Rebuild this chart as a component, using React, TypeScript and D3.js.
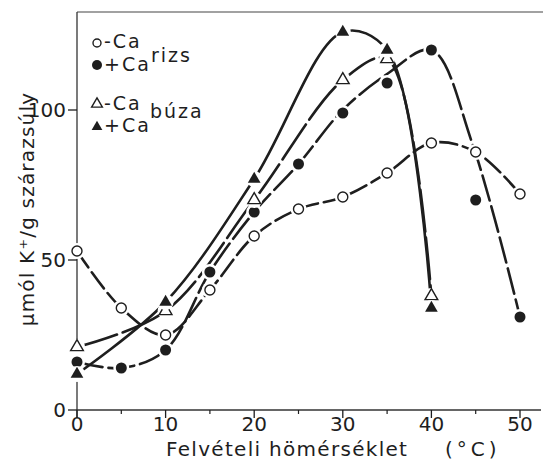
import React from 'react';
import * as d3 from 'd3';

const TEMPS = [0, 5, 10, 15, 20, 25, 30, 35, 40, 45, 50];
const RIZS_MINUS_CA = [53, 34, 25, 40, 58, 67, 71, 79, 89, 86, 72];
const RIZS_PLUS_CA = [16, 14, 20, 46, 66, 82, 99, 109, 120, 70, 31];
// the hand drawn +Ca rice curve skips the 45 °C point and runs through the open circle there
const RIZS_PLUS_LINE_T = [0, 5, 10, 15, 20, 25, 30, 35, 40, 44.6, 50];
const RIZS_PLUS_LINE_V = [16, 14, 20, 46, 66, 82, 100, 112, 120, 89, 31];
const BUZA_TEMPS = [0, 10, 20, 30, 35, 40];
const BUZA_MINUS_CA = [21, 33, 70, 110, 117, 38];
const BUZA_PLUS_CA = [12, 36, 77, 126, 120, 34];

const X_TICKS = [0, 10, 20, 30, 40, 50];
const X_MINOR = [5, 15, 25, 35, 45];
const Y_TICKS = [0, 50, 100];

const INK = '#1e1e1e';
const FONT = "'DejaVu Sans', sans-serif";

const W = 543;
const H = 468;

const x = d3.scaleLinear().domain([0, 50]).range([77, 520]);
const y = d3.scaleLinear().domain([0, 100]).range([410, 110]);

const line = d3
  .line<[number, number]>()
  .x(d => x(d[0]))
  .y(d => y(d[1]))
  .curve(d3.curveCatmullRom.alpha(0.5));

const zip = (ts: number[], vs: number[]) => ts.map((t, i) => [t, vs[i]] as [number, number]);

const tri = d3.symbol(d3.symbolTriangle, 70)();
const triSmall = d3.symbol(d3.symbolTriangle, 50)();

type Kind = 'open-c' | 'fill-c' | 'open-t' | 'fill-t';

function Marker({ cx, cy, kind, small }: { cx: number; cy: number; kind: Kind; small?: boolean }) {
  const open = kind.startsWith('open');
  const circle = kind.endsWith('c');
  return (
    <g transform={`translate(${cx},${cy})`}>
      {!small && <circle r={8} fill="#fff" />}
      {circle ? (
        <circle
          r={small ? (open ? 4 : 5) : open ? 5 : 5.5}
          fill={open ? '#fff' : INK}
          stroke={INK}
          strokeWidth={open ? 1.4 : 0}
        />
      ) : (
        <path
          d={small ? triSmall : tri}
          fill={open ? '#fff' : INK}
          stroke={INK}
          strokeWidth={open ? 1.4 : 0}
        />
      )}
    </g>
  );
}

export default function App() {
  const series = [
    { pts: zip(TEMPS, RIZS_MINUS_CA), dash: '20 6' },
    { pts: zip(RIZS_PLUS_LINE_T, RIZS_PLUS_LINE_V), dash: '26 6' },
    { pts: zip(BUZA_TEMPS, BUZA_MINUS_CA), dash: '42 6' },
    { pts: zip(BUZA_TEMPS, BUZA_PLUS_CA), dash: null },
  ];

  const marks: { t: number; v: number; kind: Kind }[] = [
    ...TEMPS.map((t, i) => ({ t, v: RIZS_MINUS_CA[i], kind: 'open-c' as Kind })),
    ...TEMPS.map((t, i) => ({ t, v: RIZS_PLUS_CA[i], kind: 'fill-c' as Kind })),
    ...BUZA_TEMPS.map((t, i) => ({ t, v: BUZA_MINUS_CA[i], kind: 'open-t' as Kind })),
    ...BUZA_TEMPS.map((t, i) => ({ t, v: BUZA_PLUS_CA[i], kind: 'fill-t' as Kind })),
  ];

  const textStyle = { fontFamily: FONT, fill: INK };

  return (
    <svg
      width={W}
      height={H}
      style={{ position: 'absolute', left: 0, top: 0, background: '#fff' }}
    >
      {/* frame */}
      <line x1={x(0)} x2={W} y1={12} y2={12} stroke="#444" strokeWidth={1.2} />
      <line x1={x(0)} x2={x(0)} y1={12} y2={y(0) + 8} stroke="#333" strokeWidth={1.3} />
      <line x1={x(0)} x2={W - 2} y1={y(0)} y2={y(0)} stroke="#333" strokeWidth={1.3} />

      {X_TICKS.map(t => (
        <g key={`xt${t}`}>
          <line x1={x(t)} x2={x(t)} y1={y(0)} y2={y(0) + 8} stroke={INK} strokeWidth={1.3} />
          <text x={x(t)} y={y(0) + 21} textAnchor="middle" fontSize={20} style={textStyle}>
            {t}
          </text>
        </g>
      ))}
      {X_MINOR.map(t => (
        <line key={`xm${t}`} x1={x(t)} x2={x(t)} y1={y(0)} y2={y(0) + 4} stroke={INK} strokeWidth={1.2} />
      ))}
      {Y_TICKS.map(v => (
        <g key={`yt${v}`}>
          <line x1={x(0) - 9} x2={x(0)} y1={y(v)} y2={y(v)} stroke={INK} strokeWidth={1.3} />
          <text x={x(0) - 11} y={y(v)} dy="0.36em" textAnchor="end" fontSize={20} style={textStyle}>
            {v}
          </text>
        </g>
      ))}

      {/* curves */}
      {series.map((s, i) => (
        <path
          key={`s${i}`}
          d={line(s.pts) || ''}
          fill="none"
          stroke={INK}
          strokeWidth={2.6}
          strokeDasharray={s.dash || undefined}
          strokeLinecap="round"
        />
      ))}

      {/* markers */}
      {marks.map((m, i) => (
        <Marker key={`m${i}`} cx={x(m.t)} cy={y(m.v)} kind={m.kind} />
      ))}

      {/* legend */}
      <g style={textStyle} fontSize={19} letterSpacing={2}>
        <Marker cx={97} cy={43} kind="open-c" small />
        <text x={104} y={48}>-Ca</text>
        <Marker cx={97} cy={65} kind="fill-c" small />
        <text x={104} y={71}>+Ca</text>
        <text x={151} y={62}>rizs</text>
        <Marker cx={97} cy={104} kind="open-t" small />
        <text x={104} y={110}>-Ca</text>
        <Marker cx={97} cy={127} kind="fill-t" small />
        <text x={104} y={132}>+Ca</text>
        <text x={150} y={118}>búza</text>
      </g>

      {/* axis titles */}
      <text x={166} y={456} fontSize={20} letterSpacing={1.3} style={textStyle}>
        Felvételi hömérséklet
      </text>
      <text x={445} y={456} fontSize={20} letterSpacing={4} style={textStyle}>
        (°C)
      </text>
      <text
        transform="translate(34,209) rotate(-90)"
        textAnchor="middle"
        fontSize={20}
        letterSpacing={1.2}
        style={textStyle}
      >
        μmól K⁺/g  szárazsúly
      </text>
    </svg>
  );
}
